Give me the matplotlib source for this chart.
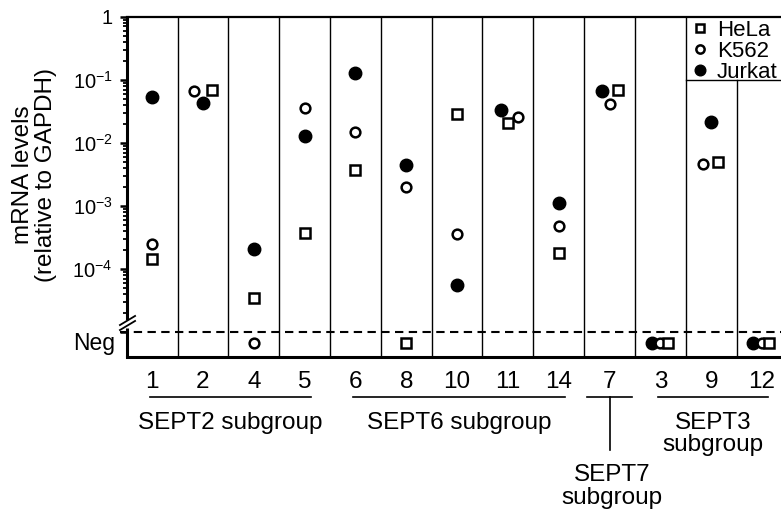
import numpy as np
import matplotlib
matplotlib.use('Agg')
import matplotlib.pyplot as plt
from matplotlib.ticker import FixedLocator, NullFormatter

plt.rcParams['font.family'] = ['Liberation Sans', 'DejaVu Sans']
plt.rcParams['mathtext.fontset'] = 'custom'
plt.rcParams['mathtext.rm'] = 'Liberation Sans'

# septin genes, in plotted order; 0 = not detected (Neg)
genes = ['1', '2', '4', '5', '6', '8', '10', '11', '14', '7', '3', '9', '12']
hela = [1.46e-4, 0.069, 3.5e-5, 3.76e-4, 3.7e-3, 0, 0.0288, 0.0207, 1.81e-4, 0.069, 0, 5.0e-3, 0]
k562 = [2.5e-4, 0.0666, 0, 0.0358, 0.0149, 2.0e-3, 3.6e-4, 0.0258, 4.85e-4, 0.0415, 0, 4.65e-3, 0]
jurkat = [0.053, 0.043, 2.1e-4, 0.0129, 0.128, 4.5e-3, 5.6e-5, 0.033, 1.12e-3, 0.0666, 0, 0.0215, 0]

# subgroups: (label, first column, last column)
groups = [('SEPT2 subgroup', 0, 3), ('SEPT6 subgroup', 4, 8),
          ('SEPT7\nsubgroup', 9, 9), ('SEPT3\nsubgroup', 10, 12)]

# small horizontal shifts so overlapping points stay visible
dx_hela = [0, 0.17, 0, 0, 0, 0, 0, 0, 0, 0.16, 0.15, 0.14, 0.14]
dx_k562 = [0, -0.17, 0, 0, 0, 0, 0, 0.19, 0, 0, 0, -0.17, 0]
dx_jurkat = [0, 0, 0, 0, 0, 0, 0, -0.14, 0, -0.15, -0.17, 0, -0.17]

NEG_Y = 10 ** -5.17
CUT_Y = 1e-5
Y_LOW = 10 ** -5.39

fig = plt.figure(figsize=(7.81, 5.13), dpi=100)
ax = fig.add_axes([0.1622, 0.3041, 0.8461, 0.6634])
ax.set_yscale('log')
ax.set_ylim(Y_LOW, 1)
ax.set_xlim(0, len(genes))

x = np.arange(len(genes)) + 0.5


def yvals(v):
    v = np.array(v, dtype=float)
    return np.where(v > 0, v, NEG_Y)


ax.plot(x + dx_hela, yvals(hela), 's', ms=7.5, mfc='white', mec='black', mew=1.8,
        ls='none', label='HeLa', zorder=4, clip_on=False)
ax.plot(x + dx_k562, yvals(k562), 'o', ms=7, mfc='white', mec='black', mew=1.8,
        ls='none', label='K562', zorder=3, clip_on=False)
ax.plot(x + dx_jurkat, yvals(jurkat), 'o', ms=9, mfc='black', mec='black',
        ls='none', label='Jurkat', zorder=2, clip_on=False)

# column separators; the one under the legend stops at the legend box
for i in range(1, len(genes)):
    top = 0.1 if i == 12 else 1
    ax.plot([i, i], [Y_LOW, top], color='black', lw=1.0, zorder=1)
ax.plot([11, 13], [0.1, 0.1], color='black', lw=1.0, zorder=1, clip_on=False)

# Neg cutoff
ax.plot([-0.13, 13], [CUT_Y, CUT_Y], color='black', lw=1.5,
        ls=(0, (4, 2.6)), clip_on=False, zorder=1)

# spines
ax.spines['right'].set_visible(False)
ax.spines['top'].set_linewidth(1.6)
ax.spines['bottom'].set_linewidth(2.2)
ax.spines['left'].set_linewidth(2.2)
ax.spines['left'].set_bounds(10 ** -4.78, 1)
ax.plot([0, 0], [Y_LOW, 10 ** -4.93], color='black', lw=2.2, clip_on=False,
        solid_capstyle='butt')
ax.plot([0.0, 0.0], [10 ** -4.81, 10 ** -4.88], ls='none',
        marker=[(-1, -0.6), (1, 0.6)], ms=12, mfc='none', mec='black', mew=1.3,
        clip_on=False)

# y ticks
major = [1, 1e-1, 1e-2, 1e-3, 1e-4, 1e-5]
ax.yaxis.set_major_locator(FixedLocator(major))
ax.set_yticklabels(['1', r'$\mathregular{10^{-1}}$', r'$\mathregular{10^{-2}}$',
                    r'$\mathregular{10^{-3}}$', r'$\mathregular{10^{-4}}$', ''])
minor = [k * 10.0 ** e for e in range(-5, 0) for k in range(2, 10)]
ax.yaxis.set_minor_locator(FixedLocator(minor))
ax.yaxis.set_minor_formatter(NullFormatter())
ax.tick_params(axis='y', which='major', length=5, width=1.8, labelsize=14.5, pad=5)
ax.tick_params(axis='y', which='minor', length=3, width=1.3)
ax.annotate('Neg', xy=(0, NEG_Y), xycoords=('axes fraction', 'data'),
            xytext=(-8, 0), textcoords='offset points', ha='right', va='center',
            fontsize=16.5)

ax.set_ylabel('mRNA levels\n(relative to GAPDH)', fontsize=17.5, linespacing=1.05)
ax.yaxis.set_label_coords(-0.106, 0.535)

# x ticks
ax.set_xticks(x)
ax.set_xticklabels(genes)
ax.tick_params(axis='x', length=0, labelsize=17.5, pad=10)

# subgroup brackets and labels
tr = ax.get_xaxis_transform()
for label, a, b in groups:
    if a == b:
        x0, x1 = a + 0.05, b + 0.95
    else:
        x0, x1 = a + 0.45, b + 0.62
    ax.plot([x0, x1], [-0.1175, -0.1175], color='black', lw=1.2,
            transform=tr, clip_on=False)
    xc = (x0 + x1) / 2
    if label.startswith('SEPT7'):
        ax.plot([xc, xc], [-0.1175, -0.274], color='black', lw=1.2,
                transform=tr, clip_on=False)
        ax.text(xc + 0.05, -0.314, label, transform=tr, ha='center', va='top',
                fontsize=17.5, linespacing=1.05)
    else:
        ax.text(xc, -0.162, label, transform=tr, ha='center', va='top',
                fontsize=17.5, linespacing=1.0)

leg = ax.legend(loc='upper left', bbox_to_anchor=((689 - 126.7) / 660.8, 1.0),
                frameon=False, fontsize=16, handlelength=0.7, handletextpad=0.4,
                labelspacing=0.0, borderaxespad=0.0, borderpad=0.15, markerscale=0.85)

plt.savefig('out.png', dpi=100)
